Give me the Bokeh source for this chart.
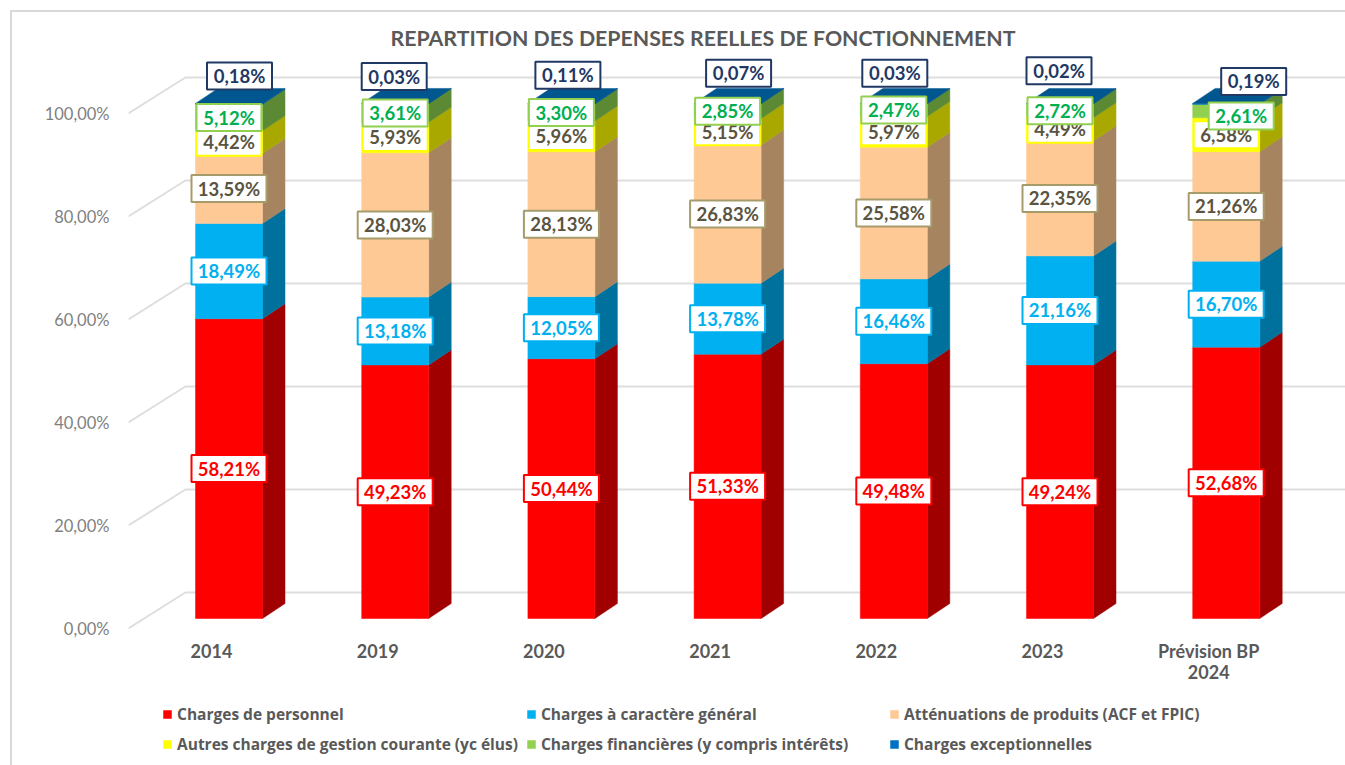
from bokeh.plotting import figure
from bokeh.models import ColumnDataSource, Range1d, FixedTicker, Legend, LegendItem
from bokeh.core.properties import value
from bokeh.embed import file_html
from bokeh.resources import INLINE

# ---- data ----
categories = ["2014", "2019", "2020", "2021", "2022", "2023", "Prévision BP\n2024"]
personnel = [58.21, 49.23, 50.44, 51.33, 49.48, 49.24, 52.68]
general = [18.49, 13.18, 12.05, 13.78, 16.46, 21.16, 16.70]
attenuations = [13.59, 28.03, 28.13, 26.83, 25.58, 22.35, 21.26]
autres = [4.42, 5.93, 5.96, 5.15, 5.97, 4.49, 6.58]
financieres = [5.12, 3.61, 3.30, 2.85, 2.47, 2.72, 2.61]
exceptionnelles = [0.18, 0.03, 0.11, 0.07, 0.03, 0.02, 0.19]
series_names = [
    "Charges de personnel",
    "Charges à caractère général",
    "Atténuations de produits (ACF et FPIC)",
    "Autres charges de gestion courante (yc élus)",
    "Charges financières (y compris intérêts)",
    "Charges exceptionnelles",
]
y_ticks = [0, 20, 40, 60, 80, 100]

# ---- styles ----
series = [personnel, general, attenuations, autres, financieres, exceptionnelles]
front = ["#FF0000", "#00B0F0", "#FFC996", "#FFFF00", "#92D050", "#0070C0"]
side = ["#A00000", "#00709C", "#A68460", "#A8A800", "#5C8A34", "#00568F"]
top_colour = "#00568F"
box_border = ["#FF0000", "#00B0F0", "#A69B6B", "#FFFF00", "#92D050", "#1F3864"]
text_col = ["#FF0000", "#00B0F0", "#5A5440", "#5A5440", "#00B050", "#1F3864"]
LABEL_FONT = value("Lato")

PX_X, PX_Y = 166.2, 5.15              # pixels per category / per percent
FLOOR_X, FLOOR_Y = 17.5 / PX_X, 10 / PX_Y    # front of the bars inside the floor
DEPTH_X, DEPTH_Y = 22.5 / PX_X, 15 / PX_Y    # depth of the bars
BACK_X, BACK_Y = 57 / PX_X, 36 / PX_Y        # depth of the floor
BAR_W = 67 / PX_X

FIG_X, FIG_Y = 12, 12
W, H = 1335, 755
FRAME_L, FRAME_T = 128, 55
FRAME_R, FRAME_B = FIG_X + W, FIG_Y + H
ORIGIN_X, ORIGIN_Y = 211, 628

p = figure(width=W, height=H, output_backend="svg", toolbar_location=None,
           x_range=Range1d((FRAME_L - ORIGIN_X) / PX_X, (FRAME_R - ORIGIN_X) / PX_X),
           y_range=Range1d((ORIGIN_Y - FRAME_B) / PX_Y, (ORIGIN_Y - FRAME_T) / PX_Y),
           min_border_left=FRAME_L - FIG_X, min_border_right=0, min_border_top=FRAME_T - FIG_Y,
           min_border_bottom=0, outline_line_color=None, background_fill_color="white",
           margin=(10, 0, 0, 10),
           styles={"border-left": "2px solid #D9D9D9", "border-top": "2px solid #D9D9D9"})
p.grid.visible = False

# title
p.title.text = "REPARTITION DES DEPENSES REELLES DE FONCTIONNEMENT"
p.title.text_font = "Lato"
p.title.text_font_size = "21.3px"
p.title.text_font_style = "bold"
p.title.text_color = "#595959"
p.title.align = "left"
p.title.offset = 262
p.title.standoff = 10

# axes
ax = p.xaxis[0]
ax.ticker = FixedTicker(ticks=list(range(len(categories))))
ax.major_label_overrides = {i: c for i, c in enumerate(categories)}
ax.axis_line_color = None
ax.major_tick_line_color = None
ax.minor_tick_line_color = None
ax.major_label_standoff = -(FRAME_B - 633)
ax.major_label_text_font = "Lato"
ax.major_label_text_font_size = "18px"
ax.major_label_text_font_style = "bold"
ax.major_label_text_color = "#595959"
ax.major_label_text_line_height = 0.97

ay = p.yaxis[0]
ay.ticker = FixedTicker(ticks=y_ticks)
ay.major_label_overrides = {t: f"{t},00%" for t in y_ticks}
ay.axis_line_color = None
ay.major_tick_line_color = None
ay.minor_tick_line_color = None
ay.major_label_standoff = 13
ay.major_label_text_font = "Lato"
ay.major_label_text_font_size = "16.5px"
ay.major_label_text_color = "#7F7F7F"

# walls
xleft = -0.5
p.multi_line(
    xs=[[xleft, xleft + BACK_X, 9] for _ in y_ticks],
    ys=[[t, t + BACK_Y, t + BACK_Y] for t in y_ticks],
    line_color="#DEDEDE", line_width=2)

# bars
n = len(categories)
centres = [i + FLOOR_X for i in range(n)]
bottoms = [0.0] * n
stack = []
fronts = []
for k, values in enumerate(series):
    tops = [b + v for b, v in zip(bottoms, values)]
    stack.append((list(bottoms), tops))
    xs, ys = [], []
    for i in range(n):
        xr = centres[i] + BAR_W / 2
        b0, t0 = bottoms[i] + FLOOR_Y, tops[i] + FLOOR_Y
        xs.append([xr, xr + DEPTH_X, xr + DEPTH_X, xr])
        ys.append([b0, b0 + DEPTH_Y, t0 + DEPTH_Y, t0])
    p.patches(xs, ys, fill_color=side[k], line_color=side[k], line_width=0.5)
    r = p.vbar(x=centres, width=BAR_W,
               bottom=[b + FLOOR_Y for b in bottoms], top=[t + FLOOR_Y for t in tops],
               fill_color=front[k], line_color=front[k], line_width=0.5)
    fronts.append(r)
    bottoms = tops

# top faces
xs, ys = [], []
for i in range(n):
    xl, xr = centres[i] - BAR_W / 2, centres[i] + BAR_W / 2
    t0 = bottoms[i] + FLOOR_Y
    xs.append([xl, xr, xr + DEPTH_X, xl + DEPTH_X])
    ys.append([t0, t0, t0 + DEPTH_Y, t0 + DEPTH_Y])
p.patches(xs, ys, fill_color=top_colour, line_color=top_colour, line_width=0.5)

# labels: at the middle of each segment, with the hand moves of the original
nudge = {
    4: {6: (15, -5)},
    5: {0: (10.5, 28), 1: (-1, 27), 2: (6.5, 28.5), 3: (11, 30.5), 4: (1, 30.5), 5: (-1, 33), 6: (27.5, 22.5)},
}
for k, values in enumerate(series):
    lx, ly, txt, wd = [], [], [], []
    for i, v in enumerate(values):
        b0, t0 = stack[k][0][i], stack[k][1][i]
        dx, dy = nudge.get(k, {}).get(i, (0, 0))
        lx.append(centres[i] + dx / PX_X)
        ly.append((b0 + t0) / 2 + FLOOR_Y + dy / PX_Y)
        s = f"{v:.2f}".replace(".", ",") + "%"
        txt.append(s)
        wd.append(75 if len(s) == 6 else 65)
    src = ColumnDataSource(dict(x=lx, y=ly, t=txt, w=wd))
    p.rect("x", "y", width="w", height=27, width_units="screen", height_units="screen",
           source=src, fill_color="white", line_color=box_border[k], line_width=2)
    p.text("x", "y", text="t", source=src, text_font=LABEL_FONT, text_font_style="bold",
           text_font_size="18.5px", text_color=text_col[k], text_align="center", text_baseline="middle")

# legend
legend = Legend(items=[LegendItem(label=series_names[k], renderers=[fronts[k]]) for k in range(6)],
                orientation="horizontal", ncols=3,
                label_text_font="Open Sans", label_text_font_size="15.5px", label_text_font_style="bold",
                label_text_color="#595959", glyph_width=10, glyph_height=10, label_standoff=5,
                label_width=340, spacing=8, padding=0, margin=0, border_line_color=None,
                background_fill_alpha=0, location=(34, 12))
p.add_layout(legend, "center")

open("out.html", "w").write(file_html(p, INLINE))
